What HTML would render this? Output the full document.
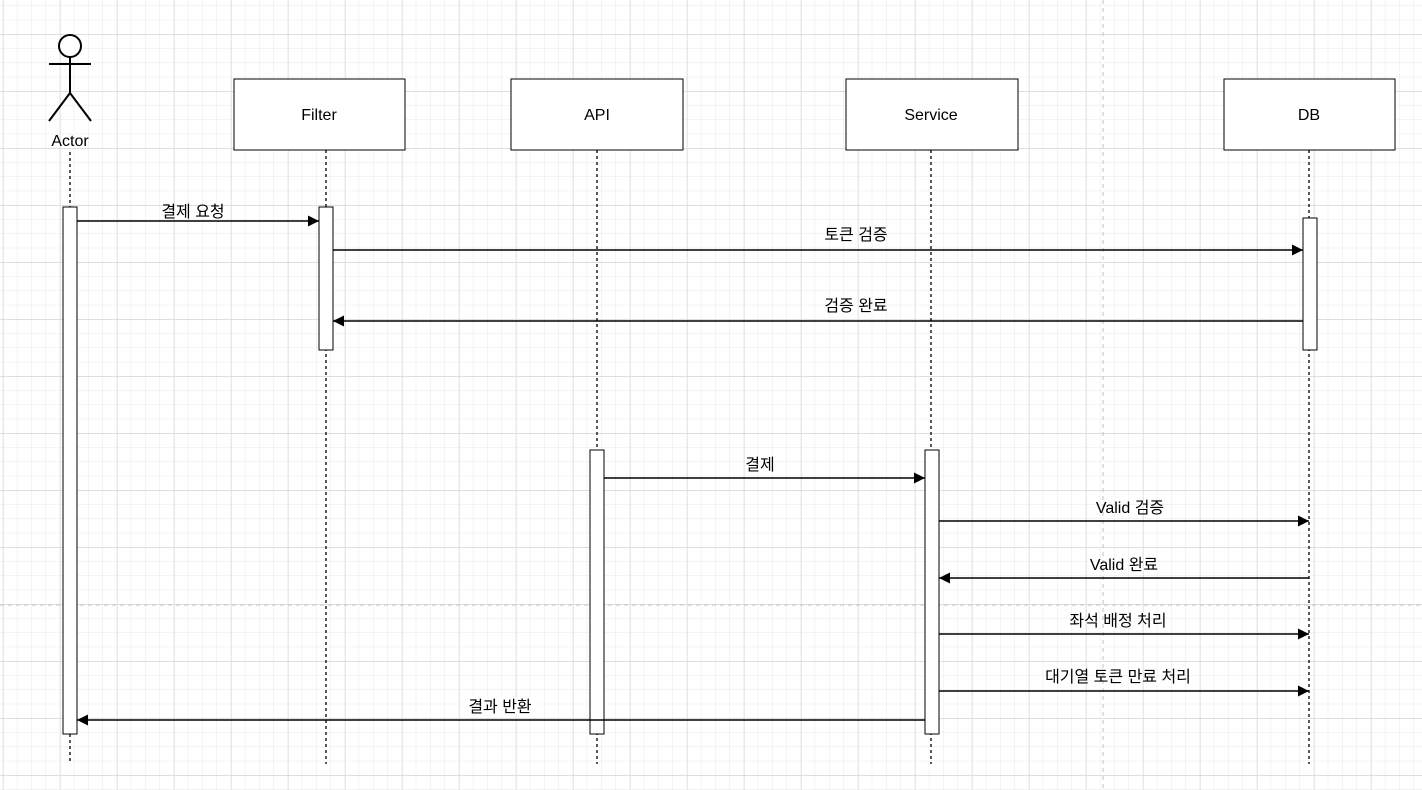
<!DOCTYPE html><html><head><style>body{margin:0;background:#fff}svg{display:block}text{font-family:"Liberation Sans","Noto Sans CJK KR",sans-serif;font-size:16px;fill:#000}</style></head><body>
<svg width="1422" height="790" xmlns="http://www.w3.org/2000/svg">
<defs>
<pattern id="mi" width="14.25" height="14.25" patternUnits="userSpaceOnUse" x="3" y="6"><path d="M14.25 0V14.25M0 14.25H14.25" stroke="#e8e8e8" stroke-width="1" fill="none"/></pattern>
<pattern id="ma" width="57" height="57" patternUnits="userSpaceOnUse" x="3" y="34.5"><path d="M0 0V57M0 0H57" stroke="#d4d4d4" stroke-width="1" fill="none"/></pattern>
<marker id="a" markerWidth="12" markerHeight="12" refX="11" refY="5.5" orient="auto" markerUnits="userSpaceOnUse"><path d="M0 0L11 5.5L0 11z" fill="#000"/></marker>
</defs>
<rect width="1422" height="790" fill="url(#mi)"/>
<rect width="1422" height="790" fill="url(#ma)"/>
<path d="M1103 0V790M0 605H1422" stroke="#c0c0c0" stroke-dasharray="4 4"/>
<g stroke="#000" stroke-width="1" fill="none">
<g stroke-width="2"><circle cx="70" cy="46" r="11" fill="#fff"/>
<path d="M70 57V93M49 64H91M70 93L49 121M70 93L91 121"/></g>
<g stroke-dasharray="3 3" stroke-width="1.3">
<path d="M70 152V764M326 150V764M597 150V764M931 150V764M1309 150V764"/>
</g>
<g fill="#fff">
<rect x="234" y="79" width="171" height="71"/><rect x="511" y="79" width="172" height="71"/><rect x="846" y="79" width="172" height="71"/><rect x="1224" y="79" width="171" height="71"/>
<rect x="63" y="207" width="14" height="527"/><rect x="319" y="207" width="14" height="143"/><rect x="1303" y="218" width="14" height="132"/><rect x="590" y="450" width="14" height="284"/><rect x="925" y="450" width="14" height="284"/>
</g>
<g marker-end="url(#a)" stroke-width="1.5">
<path d="M77 221H319"/><path d="M333 250H1303"/><path d="M1303 321H333"/><path d="M604 478H925"/><path d="M939 521H1309"/><path d="M1309 578H939"/><path d="M939 634H1309"/><path d="M939 691H1309"/><path d="M925 720H77"/>
</g>
</g>
<rect x="462" y="697" width="76" height="18" fill="#fff"/>
<g text-anchor="middle">
<text x="70" y="146">Actor</text>
<text x="319" y="120">Filter</text><text x="597" y="120">API</text><text x="931" y="120">Service</text><text x="1309" y="120">DB</text>
<text x="193" y="217">결제 요청</text>
<text x="856" y="240">토큰 검증</text>
<text x="856" y="311">검증 완료</text>
<text x="760" y="470">결제</text>
<text x="1130" y="513">Valid 검증</text>
<text x="1124" y="570">Valid 완료</text>
<text x="1118" y="626">좌석 배정 처리</text>
<text x="1118" y="682">대기열 토큰 만료 처리</text>
<text x="500" y="712">결과 반환</text>
</g>
</svg></body></html>
